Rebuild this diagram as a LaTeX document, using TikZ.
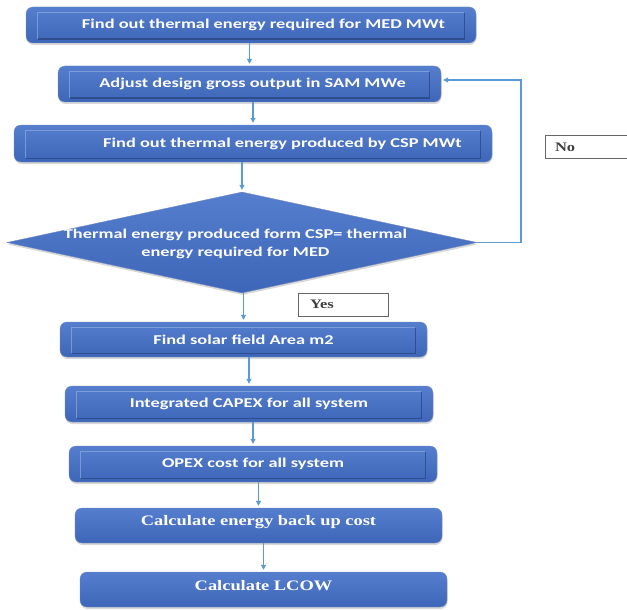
\documentclass[tikz,border=0pt]{standalone}
\usepackage{fontspec}
\newfontfamily\flowsans{Carlito}[FakeStretch=1.36]
\newfontfamily\flowserif{Liberation Serif}[FakeStretch=1.27]
\usetikzlibrary{calc,arrows.meta,shapes.geometric,shadows}
\definecolor{boxtop}{RGB}{86,126,206}
\definecolor{boxbot}{RGB}{62,102,184}
\definecolor{boxedge}{RGB}{52,88,160}
\definecolor{arrowblue}{RGB}{91,155,213}

\begin{document}
\begin{tikzpicture}[x=1pt, y=-1pt,
    procbox/.style={rectangle, rounded corners=7pt, minimum height=36pt, inner sep=0pt,
        top color=boxtop, bottom color=boxbot, draw=boxedge!70, line width=0.4pt,
        drop shadow={shadow xshift=0.5pt, shadow yshift=-2pt, opacity=0.3}},
    decision/.style={diamond, inner sep=0pt, top color=boxtop, bottom color=boxbot,
        draw=boxedge!70, line width=0.4pt,
        drop shadow={shadow xshift=0.5pt, shadow yshift=-2pt, opacity=0.3}},
    sanslabel/.style={text=white, align=center, font=\flowsans\bfseries\fontsize{13.5}{18}\selectfont},
    seriflabel/.style={text=white, font=\flowserif\bfseries\fontsize{14.5}{17}\selectfont},
    bevellight/.style={draw=boxtop!60!white, line width=0.7pt, opacity=0.6},
    beveldark/.style={draw=boxedge!75!black, line width=1.4pt, opacity=0.7},
    flowarrow/.style={draw=arrowblue, line width=1.1pt, -{Triangle[width=5pt,length=5pt]}, shorten >=2pt},
    tagbox/.style={draw=gray!80!black, fill=white, line width=0.6pt, minimum height=23pt, inner ysep=0pt, align=left},
    tagtext/.style={text=black!75, font=\flowserif\bfseries\fontsize{13}{15}\selectfont}]

\fill[white] (0,0) rectangle (627,610);
\useasboundingbox (0,0) rectangle (627,610);

% process steps
\node[procbox, minimum width=450pt, label={[sanslabel, xshift=12.5pt]center:Find out thermal energy required for MED MWt}] (b1) at (251,25) {};
\node[procbox, minimum width=383pt, label={[sanslabel, xshift=3pt]center:Adjust design gross output in SAM MWe}] (b2) at (249.5,84) {};
\node[procbox, minimum width=478pt, minimum height=37pt, label={[sanslabel, xshift=29.5pt]center:Find out thermal energy produced by CSP MWt}] (b3) at (253,143.5) {};
\node[decision, minimum width=470pt, minimum height=101pt, label={[sanslabel, xshift=-6.5pt, yshift=-1.5pt]center:Thermal energy produced form CSP= thermal\\energy required for MED}] (dec) at (242,242.5) {};
\node[procbox, minimum width=367pt, minimum height=35pt, label={[sanslabel]center:Find solar field Area m2}] (b4) at (243.5,339.5) {};
\node[procbox, minimum width=368pt, label={[sanslabel]center:Integrated CAPEX for all system}] (b5) at (249,404) {};
\node[procbox, minimum width=368pt, label={[sanslabel]center:OPEX cost for all system}] (b6) at (253,464) {};
\node[procbox, minimum width=367pt, minimum height=35pt, label={[seriflabel, yshift=3pt]center:Calculate energy back up cost}] (b7) at (258.5,525.5) {};
\node[procbox, minimum width=367pt, minimum height=35pt, label={[seriflabel, yshift=4pt]center:Calculate LCOW}] (b8) at (263.5,589.5) {};

% inner bevel of the first boxes
\foreach \n in {b1,b2,b3,b4,b5,b6} {
    \draw[bevellight] ($(\n.south west)+(12,-4)$) |- ($(\n.north east)+(-12,6)$);
    \draw[beveldark] ($(\n.south west)+(12,-4)$) -| ($(\n.north east)+(-12,6)$);
}

% answers
\node[tagbox, tagtext, text width=80pt, inner xsep=10pt] (no) at (595,147) {No};
\node[tagbox, tagtext, text width=66pt, inner xsep=12pt] (yes) at (343,304.5) {Yes};

% connectors
\foreach \a/\b in {b1/b2,b2/b3,b3/dec,dec/b4,b4/b5,b5/b6,b6/b7,b7/b8}
    \draw[flowarrow] (\b.north |- \a.south) -- (\b.north);
\coordinate (turn) at (521,80);
\draw[flowarrow] (dec.east) -| (turn) -- (b2.east |- turn);

\end{tikzpicture}
\end{document}
